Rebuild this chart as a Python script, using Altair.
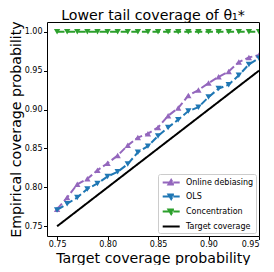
import altair as alt
import pandas as pd

target = [0.75, 0.76, 0.77, 0.78, 0.79, 0.80, 0.81, 0.82, 0.83, 0.84, 0.85,
          0.86, 0.87, 0.88, 0.89, 0.90, 0.91, 0.92, 0.93, 0.94, 0.95]
online = [0.772, 0.787, 0.804, 0.811, 0.822, 0.831, 0.841, 0.854, 0.864, 0.869, 0.877,
          0.892, 0.902, 0.918, 0.925, 0.934, 0.942, 0.949, 0.961, 0.967, 0.970]
ols = [0.771, 0.779, 0.787, 0.798, 0.805, 0.814, 0.820, 0.830, 0.845, 0.853, 0.866,
       0.877, 0.887, 0.898, 0.903, 0.916, 0.927, 0.932, 0.944, 0.958, 0.966]
conc = [1.0] * 21

names = ["Online debiasing", "OLS", "Concentration", "Target coverage"]
colors = ["#9467bd", "#1f77b4", "#2ca02c", "#000000"]

rows = []
for n, vals in zip(names, [online, ols, conc, target]):
    for t, v in zip(target, vals):
        rows.append({"t": t, "v": v, "series": n})
df = pd.DataFrame(rows)

xs = alt.Scale(domain=[0.74, 0.95], nice=False, zero=False)
ys = alt.Scale(domain=[0.7375, 1.0125], nice=False, zero=False)
xax = alt.Axis(values=[0.75, 0.80, 0.85, 0.90, 0.95], format=".2f", title="Target coverage probability")
yax = alt.Axis(values=[0.75, 0.80, 0.85, 0.90, 0.95, 1.00], format=".2f", title="Empirical coverage probability")
cscale = alt.Scale(domain=names, range=colors)

base = alt.Chart(df)

dash = "M-1.7,0H-0.22M0.42,0H1.7"
paths = [
    dash + "M-0.55,0.4L0,-0.5L0.55,0.4Z",
    dash + "M-0.55,-0.4L0,0.5L0.55,-0.4Z",
    dash + "M-0.55,-0.4L0,0.5L0.55,-0.4Z",
    "M-1.7,0H1.7",
]
leg = alt.Legend(title=None, orient="bottom-right", offset=3.5, symbolSize=100,
                 symbolStrokeWidth=1.8, labelFontSize=8, labelFont="DejaVu Sans",
                 labelColor="#000", rowPadding=2, padding=2.5, strokeColor="#cccccc",
                 fillColor="rgba(255,255,255,0.8)", cornerRadius=2, labelOffset=8.8,
                 symbolOffset=4.7)
legend_layer = base.transform_filter("false").mark_point(filled=False, opacity=1).encode(
    x=alt.X("t:Q", scale=xs, axis=xax),
    y=alt.Y("v:Q", scale=ys, axis=yax),
    color=alt.Color("series:N", scale=cscale, legend=leg),
    shape=alt.Shape("series:N", scale=alt.Scale(domain=names, range=paths), legend=leg),
)

lines = base.mark_line(clip=True).encode(
    x=alt.X("t:Q", scale=xs, axis=xax),
    y=alt.Y("v:Q", scale=ys, axis=yax),
    color=alt.Color("series:N", scale=cscale, legend=None),
    strokeDash=alt.StrokeDash("series:N", scale=alt.Scale(domain=names, range=[[7.4, 3.2], [7.4, 3.2], [7.4, 3.2], [1, 0]]), legend=None),
    strokeWidth=alt.StrokeWidth("series:N", scale=alt.Scale(domain=names, range=[2, 2, 2, 2.5]), legend=None),
)

pts_up = base.transform_filter(alt.datum.series == "Online debiasing").mark_point(
    filled=True, opacity=1, clip=True, shape="triangle-up", size=40).encode(
    x=alt.X("t:Q", scale=xs),
    y=alt.Y("v:Q", scale=ys),
    color=alt.Color("series:N", scale=cscale, legend=None),
)
pts_down = base.transform_filter(
    (alt.datum.series == "OLS") | (alt.datum.series == "Concentration")).mark_point(
    filled=True, opacity=1, clip=True, shape="triangle-down", size=40).encode(
    x=alt.X("t:Q", scale=xs),
    y=alt.Y("v:Q", scale=ys),
    color=alt.Color("series:N", scale=cscale, legend=None),
)

chart = alt.layer(legend_layer, lines, pts_up, pts_down).properties(
    width=212, height=214,
    title=alt.TitleParams("Lower tail coverage of θ₁*", fontSize=14.2, font="DejaVu Sans",
                          fontWeight="normal", color="#000", offset=0, dy=2, anchor="middle"),
    autosize=alt.AutoSizeParams(type="none"),
    padding={"left": 39, "top": 14, "right": 7, "bottom": 29},
).configure_view(stroke="#000", strokeWidth=1).configure_axis(
    grid=False, domain=False, labelFont="DejaVu Sans", labelFontSize=8, labelColor="#000",
    tickColor="#000", tickSize=3.5, titleFont="DejaVu Sans", titleFontSize=14.2,
    titleFontWeight="normal", titleColor="#000"
).configure_axisX(titlePadding=2.5, labelPadding=1).configure_axisY(titlePadding=1, labelPadding=1.5)

chart.save("out.html", embed_options={"renderer": "svg", "actions": False})
